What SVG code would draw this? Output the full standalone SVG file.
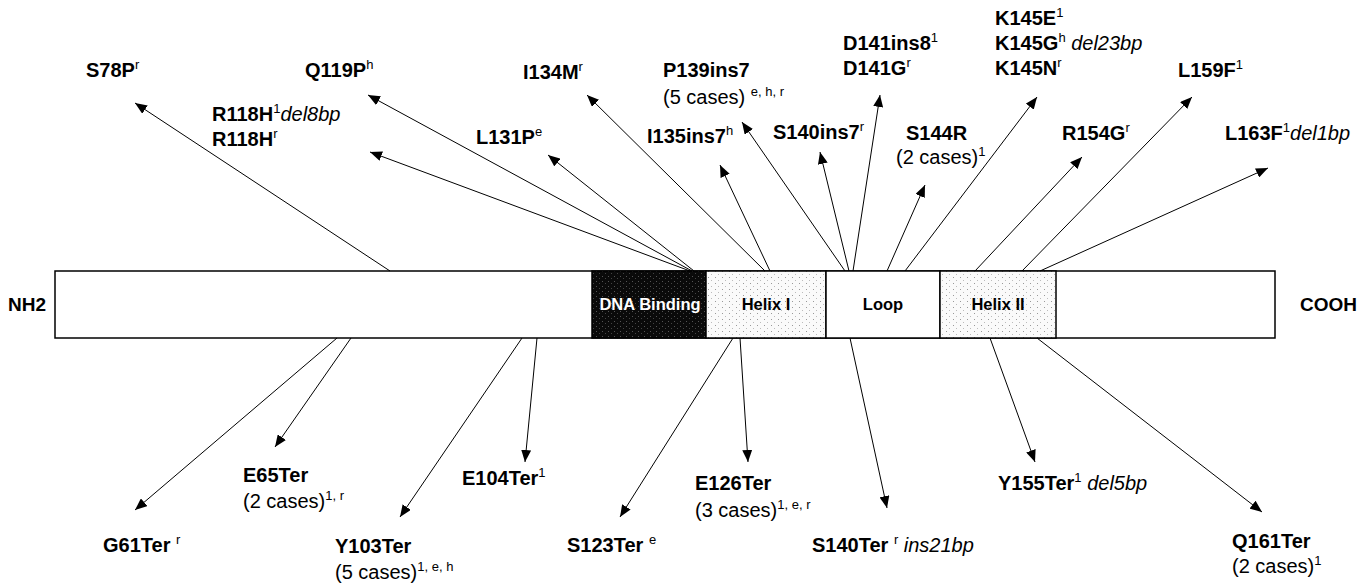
<svg xmlns="http://www.w3.org/2000/svg" width="1372" height="583" viewBox="0 0 1372 583">
<style>
text{font-family:"Liberation Sans",Arial,sans-serif;fill:#000}
.b{font-size:20px;font-weight:bold}
.n{font-weight:normal}
.i{font-style:italic;font-weight:normal}
.s{font-size:13px;font-weight:normal}
.seg{font-size:16.5px;font-weight:bold;text-anchor:middle}
.end{font-size:19px;font-weight:bold}
.c line{stroke:#000;stroke-width:1;marker-end:url(#ah)}
.box{stroke:#000;stroke-width:1.5}
</style>
<defs>
<marker id="ah" viewBox="0 0 12 10" refX="12" refY="5" markerWidth="12" markerHeight="10" markerUnits="userSpaceOnUse" orient="auto"><path d="M0,0 L12,5 L0,10 z" fill="#000"/></marker>
<pattern id="dots" width="7" height="6" patternUnits="userSpaceOnUse"><rect width="7" height="6" fill="#fafafa"/><rect x="1" y="1" width="1" height="1" fill="#999"/><rect x="4" y="4" width="1" height="1" fill="#bbb"/></pattern>
<pattern id="dark" width="6" height="5" patternUnits="userSpaceOnUse"><rect width="6" height="5" fill="#0a0a0a"/><rect x="2" y="1" width="1" height="1" fill="#555"/><rect x="5" y="3" width="1" height="1" fill="#444"/></pattern>
</defs>

<g id="protein">
<rect class="box" x="55" y="271" width="1220" height="67" fill="#fff"/>
<g id="dna-binding"><rect x="592" y="271" width="114" height="67" fill="url(#dark)" class="box"/><text class="seg" x="650" y="310" style="fill:#fff">DNA Binding</text></g>
<g id="helix1"><rect x="706" y="271" width="120" height="67" fill="url(#dots)" class="box"/><text class="seg" x="766" y="310">Helix I</text></g>
<g id="loop"><rect x="826" y="271" width="114" height="67" fill="#fff" class="box"/><text class="seg" x="883" y="310">Loop</text></g>
<g id="helix2"><rect x="940" y="271" width="116" height="67" fill="url(#dots)" class="box"/><text class="seg" x="998" y="310">Helix II</text></g>
</g>
<g id="nh2"><text class="end" x="8" y="311">NH2</text></g>
<g id="cooh"><text class="end" x="1300" y="311">COOH</text></g>

<g class="c" id="connectors">
<line x1="390" y1="271" x2="135" y2="103"/>
<line x1="692" y1="271" x2="368" y2="95"/>
<line x1="690" y1="271" x2="370" y2="152"/>
<line x1="694" y1="271" x2="548" y2="155"/>
<line x1="765" y1="271" x2="587" y2="95"/>
<line x1="770" y1="271" x2="720" y2="165"/>
<line x1="845" y1="271" x2="742" y2="122"/>
<line x1="849" y1="271" x2="820" y2="152"/>
<line x1="853" y1="271" x2="880" y2="95"/>
<line x1="887" y1="271" x2="925" y2="185"/>
<line x1="905" y1="271" x2="1037" y2="97"/>
<line x1="975" y1="271" x2="1082" y2="157"/>
<line x1="1022" y1="271" x2="1192" y2="97"/>
<line x1="1040" y1="271" x2="1268" y2="168"/>
<line x1="337" y1="338" x2="135" y2="510"/>
<line x1="351" y1="338" x2="275" y2="447"/>
<line x1="522" y1="338" x2="400" y2="517"/>
<line x1="537" y1="338" x2="525" y2="462"/>
<line x1="733" y1="338" x2="620" y2="517"/>
<line x1="740" y1="338" x2="748" y2="462"/>
<line x1="850" y1="338" x2="887" y2="508"/>
<line x1="990" y1="338" x2="1035" y2="462"/>
<line x1="1037" y1="338" x2="1262" y2="512"/>
</g>

<g id="S78P"><text class="b" x="86" y="77">S78P<tspan class="s" dy="-8">r</tspan></text></g>
<g id="Q119P"><text class="b" x="305" y="77">Q119P<tspan class="s" dy="-8">h</tspan></text></g>
<g id="R118H"><text class="b" x="212" y="121">R118H<tspan class="s" dy="-8">1</tspan><tspan class="i" dy="8">del8bp</tspan></text><text class="b" x="212" y="146">R118H<tspan class="s" dy="-8">r</tspan></text></g>
<g id="I134M"><text class="b" x="523" y="79">I134M<tspan class="s" dy="-8">r</tspan></text></g>
<g id="L131P"><text class="b" x="476" y="144">L131P<tspan class="s" dy="-8">e</tspan></text></g>
<g id="P139ins7"><text class="b" x="663" y="77">P139ins7</text><text class="b n" x="663" y="104">(5 cases) <tspan class="s" dy="-8">e, h, r</tspan></text></g>
<g id="I135ins7"><text class="b" x="647" y="143">I135ins7<tspan class="s" dy="-8">h</tspan></text></g>
<g id="S140ins7"><text class="b" x="773" y="139">S140ins7<tspan class="s" dy="-8">r</tspan></text></g>
<g id="D141"><text class="b" x="843" y="50">D141ins8<tspan class="s" dy="-8">1</tspan></text><text class="b" x="843" y="75">D141G<tspan class="s" dy="-8">r</tspan></text></g>
<g id="K145"><text class="b" x="995" y="25">K145E<tspan class="s" dy="-8">1</tspan></text><text class="b" x="995" y="50">K145G<tspan class="s" dy="-8">h</tspan><tspan class="i" dy="8"> del23bp</tspan></text><text class="b" x="995" y="75">K145N<tspan class="s" dy="-8">r</tspan></text></g>
<g id="S144R"><text class="b" x="906" y="140">S144R</text><text class="b n" x="896" y="164">(2 cases)<tspan class="s" dy="-8">1</tspan></text></g>
<g id="L159F"><text class="b" x="1178" y="77">L159F<tspan class="s" dy="-8">1</tspan></text></g>
<g id="R154G"><text class="b" x="1062" y="140">R154G<tspan class="s" dy="-8">r</tspan></text></g>
<g id="L163F"><text class="b" x="1225" y="140">L163F<tspan class="s" dy="-8">1</tspan><tspan class="i" dy="8">del1bp</tspan></text></g>

<g id="G61Ter"><text class="b" x="103" y="552">G61Ter <tspan class="s" dy="-8">r</tspan></text></g>
<g id="E65Ter"><text class="b" x="243" y="482">E65Ter</text><text class="b n" x="243" y="508">(2 cases)<tspan class="s" dy="-8">1, r</tspan></text></g>
<g id="Y103Ter"><text class="b" x="335" y="553">Y103Ter</text><text class="b n" x="335" y="579">(5 cases)<tspan class="s" dy="-8">1, e, h</tspan></text></g>
<g id="E104Ter"><text class="b" x="462" y="485">E104Ter<tspan class="s" dy="-8">1</tspan></text></g>
<g id="S123Ter"><text class="b" x="567" y="552">S123Ter <tspan class="s" dy="-8">e</tspan></text></g>
<g id="E126Ter"><text class="b" x="695" y="490">E126Ter</text><text class="b n" x="695" y="517">(3 cases)<tspan class="s" dy="-8">1, e, r</tspan></text></g>
<g id="S140Ter"><text class="b" x="812" y="552">S140Ter <tspan class="s" dy="-8">r</tspan><tspan class="i" dy="8"> ins21bp</tspan></text></g>
<g id="Y155Ter"><text class="b" x="998" y="490">Y155Ter<tspan class="s" dy="-8">1</tspan><tspan class="i" dy="8"> del5bp</tspan></text></g>
<g id="Q161Ter"><text class="b" x="1232" y="548">Q161Ter</text><text class="b n" x="1232" y="573">(2 cases)<tspan class="s" dy="-8">1</tspan></text></g>
</svg>
